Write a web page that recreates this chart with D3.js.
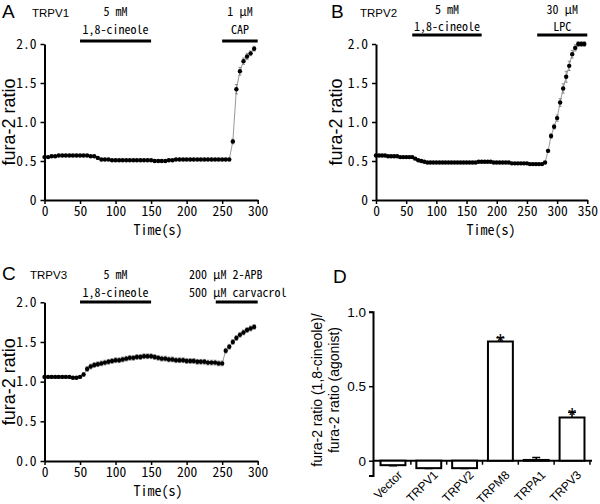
<!DOCTYPE html>
<html lang="en">
  <head>
    <meta charset="utf-8" />
    <title>fura-2 ratio traces</title>
    <script src="https://d3js.org/d3.v7.js"></script>
    <style>
      body { margin: 0; background: #fff; }
      .mono { font-family: "Noto Sans Mono CJK JP", "Liberation Mono", monospace; }
      .sans { font-family: "Liberation Sans", Arial, sans-serif; }
    </style>
  </head>
  <body>
    <script>

    // ---- data ----
    // panel A: TRPV1, every 5 s
    var timeA = [0,5,10,15,20,25,30,35,40,45,50,55,60,65,70,75,80,85,90,95,
      100,105,110,115,120,125,130,135,140,145,150,155,160,165,170,175,180,185,190,195,
      200,205,210,215,220,225,230,235,240,245,250,255,260,265,270,275,280,285,290,295];
    var ratioA = [0.55,0.55,0.56,0.56,0.57,0.57,0.57,0.57,0.57,0.57,
      0.57,0.57,0.57,0.56,0.56,0.54,0.52,0.52,0.52,0.51,
      0.51,0.51,0.51,0.51,0.51,0.51,0.51,0.51,0.51,0.51,
      0.51,0.50,0.50,0.50,0.50,0.51,0.51,0.52,0.52,0.52,
      0.52,0.52,0.52,0.52,0.52,0.52,0.52,0.52,0.52,0.52,
      0.52,0.52,0.52,0.75,1.42,1.65,1.78,1.84,1.88,1.94];
    var errA = [0.01,0.01,0.01,0.01,0.01,0.01,0.01,0.01,0.01,0.01,
      0.01,0.01,0.01,0.01,0.01,0.01,0.01,0.01,0.01,0.01,
      0.01,0.01,0.01,0.01,0.01,0.01,0.01,0.01,0.01,0.01,
      0.01,0.01,0.01,0.01,0.01,0.01,0.01,0.01,0.01,0.01,
      0.01,0.01,0.01,0.01,0.01,0.01,0.01,0.01,0.01,0.01,
      0.01,0.01,0.01,0.03,0.06,0.05,0.04,0.04,0.03,0.03];

    // panel B: TRPV2
    var timeB = [0,5,10,15,20,25,30,35,40,45,50,55,60,65,70,75,80,85,90,95,
      100,105,110,115,120,125,130,135,140,145,150,155,160,165,170,175,180,185,190,195,
      200,205,210,215,220,225,230,235,240,245,250,255,260,265,270,275,280,285,290,295,
      300,305,310,315,320,325,330,335,340,345];
    var ratioB = [0.57,0.57,0.57,0.57,0.56,0.56,0.56,0.56,0.55,0.55,
      0.55,0.55,0.55,0.53,0.51,0.50,0.49,0.48,0.48,0.48,
      0.48,0.48,0.48,0.48,0.48,0.48,0.48,0.48,0.48,0.48,
      0.48,0.48,0.48,0.48,0.49,0.49,0.49,0.49,0.49,0.48,
      0.48,0.48,0.48,0.48,0.48,0.47,0.47,0.47,0.47,0.47,
      0.47,0.46,0.46,0.46,0.46,0.46,0.48,0.63,0.82,0.94,
      1.05,1.25,1.43,1.58,1.72,1.87,1.95,2.00,2.00,2.00];
    var errB = [0.01,0.01,0.01,0.01,0.01,0.01,0.01,0.01,0.01,0.01,
      0.01,0.01,0.01,0.01,0.01,0.01,0.01,0.01,0.01,0.01,
      0.01,0.01,0.01,0.01,0.01,0.01,0.01,0.01,0.01,0.01,
      0.01,0.01,0.01,0.01,0.01,0.01,0.01,0.01,0.01,0.01,
      0.01,0.01,0.01,0.01,0.01,0.01,0.01,0.01,0.01,0.01,
      0.01,0.01,0.01,0.01,0.01,0.01,0.01,0.02,0.03,0.03,
      0.04,0.05,0.06,0.07,0.06,0.05,0.04,0.03,0.03,0.03];

    // panel C: TRPV3
    var timeC = timeA;
    var ratioC = [1.06,1.06,1.06,1.06,1.06,1.06,1.06,1.06,1.05,1.05,
      1.06,1.09,1.16,1.19,1.21,1.22,1.23,1.24,1.25,1.26,
      1.27,1.27,1.28,1.29,1.30,1.30,1.31,1.31,1.32,1.32,
      1.32,1.31,1.30,1.29,1.29,1.28,1.28,1.27,1.27,1.27,
      1.26,1.26,1.26,1.25,1.25,1.25,1.24,1.24,1.24,1.23,
      1.23,1.39,1.44,1.50,1.55,1.59,1.62,1.65,1.67,1.69];
    var errC = [0.01,0.01,0.01,0.01,0.01,0.01,0.01,0.01,0.01,0.01,
      0.01,0.02,0.03,0.03,0.03,0.03,0.03,0.03,0.03,0.03,
      0.03,0.03,0.03,0.03,0.03,0.03,0.03,0.03,0.03,0.03,
      0.03,0.03,0.03,0.03,0.03,0.03,0.03,0.03,0.03,0.03,
      0.03,0.03,0.03,0.03,0.03,0.03,0.03,0.03,0.03,0.03,
      0.03,0.03,0.03,0.03,0.03,0.03,0.03,0.03,0.03,0.03];

    // panel D: summary
    var categoriesD = ["Vector", "TRPV1", "TRPV2", "TRPM8", "TRPA1", "TRPV3"];
    var ratioD = [-0.03, -0.05, -0.05, 0.80, 0.005, 0.29];
    var errD = [0.004, 0.003, 0.003, 0.025, 0.017, 0.035];
    var signifD = [false, false, false, true, false, true];

    var traceTicksY = [0, 0.5, 1, 1.5, 2];

    // ---- drawing ----
    var svg = d3.select("body")
      .append("svg")
        .attr("width", 600)
        .attr("height", 504);

    function drawTrace(c) {
      var g = svg.append("g");
      var x = d3.scaleLinear().domain([0, c.xMax]).range([c.x0, c.x1]);
      var y = d3.scaleLinear().domain([0, 2]).range([c.y0, c.y1]);

      // axes
      var xAxis = g.append("g")
        .attr("transform", `translate(0,${c.y0})`)
        .call(d3.axisBottom(x).tickValues(d3.range(0, c.xMax + 1, 50)).tickSize(4).tickSizeOuter(0).tickPadding(2));
      var yAxis = g.append("g")
        .attr("transform", `translate(${c.x0},0)`)
        .call(d3.axisLeft(y).tickValues(traceTicksY).tickSize(4).tickSizeOuter(0).tickPadding(4)
          .tickFormat(c.yFormat));
      [xAxis, yAxis].forEach(function(a) {
        a.select(".domain").attr("stroke-width", 2);
        a.selectAll(".tick line").attr("stroke-width", 1.5);
        a.selectAll("text").attr("class", "mono").attr("font-size", 13.5).attr("fill", "#000");
      });

      // data
      var pts = c.time.map((t, i) => ({t: t, v: c.ratio[i], e: c.err[i]}));
      g.append("path")
        .datum(pts)
        .attr("fill", "none")
        .attr("stroke", "#999")
        .attr("stroke-width", 1)
        .attr("d", d3.line().x(d => x(d.t)).y(d => y(d.v)));
      g.selectAll(".err")
        .data(pts)
        .join("path")
          .attr("fill", "none")
          .attr("stroke", "#777")
          .attr("stroke-width", 0.8)
          .attr("d", d => `M${x(d.t)},${y(d.v - d.e)}V${y(d.v + d.e)}` +
            `M${x(d.t) - 1.5},${y(d.v - d.e)}h3M${x(d.t) - 1.5},${y(d.v + d.e)}h3`);
      g.selectAll(".dot")
        .data(pts)
        .join("circle")
          .attr("cx", d => x(d.t))
          .attr("cy", d => y(d.v))
          .attr("r", 2.2)
          .attr("fill", "#000");

      // application bars
      c.bars.forEach(function(b) {
        g.append("line")
          .attr("x1", x(b.from)).attr("x2", x(b.to))
          .attr("y1", b.y).attr("y2", b.y)
          .attr("stroke", "#000")
          .attr("stroke-width", 3);
        b.lines.forEach(function(l) {
          g.append("text")
            .attr("class", "mono")
            .attr("font-size", 12)
            .attr("x", b.anchor === "start" ? b.tx : (x(b.from) + x(b.to)) / 2)
            .attr("y", l.y)
            .attr("text-anchor", b.anchor || "middle")
            .text(l.text);
        });
      });

      // labels
      g.append("text").attr("class", "sans").attr("font-size", 19)
        .attr("x", c.letterX).attr("y", c.letterY).text(c.letter);
      g.append("text").attr("class", "sans").attr("font-size", 11.5)
        .attr("x", c.nameX).attr("y", c.letterY - 1).text(c.name);
      g.append("text").attr("class", "mono").attr("font-size", 14)
        .attr("x", c.timeX).attr("y", c.y0 + 35)
        .attr("text-anchor", "middle").text("Time(s)");
      g.append("text").attr("class", "sans").attr("font-size", 18)
        .attr("transform", `translate(${c.ylabX},${(c.y0 + c.y1) / 2}) rotate(-90)`)
        .attr("text-anchor", "middle").text("fura-2 ratio");
    }

    var fmtZero = d => d === 0 ? "0" : d3.format(".1f")(d);

    drawTrace({
      letter: "A", letterX: 2, letterY: 18, name: "TRPV1", nameX: 32,
      time: timeA, ratio: ratioA, err: errA, xMax: 300,
      x0: 44.5, x1: 257.7, y0: 200, y1: 44, timeX: 158, ylabX: 15,
      yFormat: fmtZero,
      bars: [
        {from: 50, to: 150, y: 41, lines: [{text: "5 mM", y: 16}, {text: "1,8-cineole", y: 34}]},
        {from: 250, to: 300, y: 41, lines: [{text: "1 µM", y: 16}, {text: "CAP", y: 34}]}
      ]
    });

    drawTrace({
      letter: "B", letterX: 331, letterY: 18, name: "TRPV2", nameX: 360,
      time: timeB, ratio: ratioB, err: errB, xMax: 350,
      x0: 376, x1: 587.3, y0: 200, y1: 44, timeX: 491, ylabX: 342,
      yFormat: fmtZero,
      bars: [
        {from: 60, to: 175, y: 35, lines: [{text: "5 mM", y: 14}, {text: "1,8-cineole", y: 31}]},
        {from: 267, to: 350, y: 35, lines: [{text: "30 µM", y: 14}, {text: "LPC", y: 31}]}
      ]
    });

    drawTrace({
      letter: "C", letterX: 2, letterY: 280, name: "TRPV3", nameX: 30,
      time: timeC, ratio: ratioC, err: errC, xMax: 300,
      x0: 44.5, x1: 257.7, y0: 461, y1: 302.3, timeX: 158, ylabX: 15,
      yFormat: d3.format(".1f"),
      bars: [
        {from: 50, to: 150, y: 302, lines: [{text: "5 mM", y: 279}, {text: "1,8-cineole", y: 297}]},
        {from: 241, to: 300, y: 302, anchor: "start", tx: 189,
          lines: [{text: "200 µM 2-APB", y: 279}, {text: "500 µM carvacrol", y: 297}]}
      ]
    });

    // panel D
    var gD = svg.append("g");
    var xD = d3.scaleBand()
      .domain(categoriesD)
      .range([373, 592])
      .paddingInner(0.305)
      .paddingOuter(0.21);
    var yD = d3.scaleLinear().domain([-0.1, 1.0]).range([475.6, 311.7]);

    var yAxisD = gD.append("g")
      .attr("transform", "translate(373,0)")
      .call(d3.axisLeft(yD).tickValues([0, 0.5, 1]).tickSize(4).tickSizeOuter(4).tickPadding(3)
        .tickFormat(d => d === 0 ? "0" : d3.format(".1f")(d)));
    yAxisD.select(".domain").attr("stroke-width", 2);
    yAxisD.selectAll(".tick line").attr("stroke-width", 1.5);
    yAxisD.selectAll("text").attr("class", "sans").attr("font-size", 13.5).attr("fill", "#000");

    // x axis along zero with ticks between categories
    var stepD = xD.step();
    gD.append("line")
      .attr("x1", 373).attr("x2", 592)
      .attr("y1", yD(0)).attr("y2", yD(0))
      .attr("stroke", "#000").attr("stroke-width", 2);
    gD.selectAll(".sep")
      .data(categoriesD)
      .join("line")
        .attr("x1", d => xD(d) + xD.bandwidth() + (stepD - xD.bandwidth()) / 2)
        .attr("x2", d => xD(d) + xD.bandwidth() + (stepD - xD.bandwidth()) / 2)
        .attr("y1", yD(0))
        .attr("y2", yD(0) + 4)
        .attr("stroke", "#000")
        .attr("stroke-width", 1.5);

    // bars
    var barsD = categoriesD.map((c, i) => ({c: c, v: ratioD[i], e: errD[i], s: signifD[i]}));
    gD.selectAll(".errD")
      .data(barsD)
      .join("path")
        .attr("fill", "none")
        .attr("stroke", "#000")
        .attr("stroke-width", 1.5)
        .attr("d", function(d) {
          var cx = xD(d.c) + xD.bandwidth() / 2;
          var end = d.v >= 0 ? d.v + d.e : d.v - d.e;
          return `M${cx},${yD(d.v)}V${yD(end)}M${cx - 4},${yD(end)}h8`;
        });
    gD.selectAll(".bar")
      .data(barsD)
      .join("rect")
        .attr("x", d => xD(d.c))
        .attr("y", d => yD(Math.max(0, d.v)))
        .attr("width", xD.bandwidth())
        .attr("height", d => Math.abs(yD(d.v) - yD(0)))
        .attr("fill", "#fff")
        .attr("stroke", "#000")
        .attr("stroke-width", 2);
    gD.selectAll(".star")
      .data(barsD.filter(d => d.s))
      .join("text")
        .attr("class", "sans")
        .attr("font-size", 21)
        .attr("text-anchor", "middle")
        .attr("x", d => xD(d.c) + xD.bandwidth() / 2)
        .attr("y", d => yD(d.v + d.e) + 10)
        .text("*");

    gD.selectAll(".catlab")
      .data(categoriesD)
      .join("text")
        .attr("class", "sans")
        .attr("font-size", 12)
        .attr("text-anchor", "end")
        .attr("transform", d => `translate(${xD(d) + xD.bandwidth() / 2 + 10},${yD(0) + 15}) rotate(-45)`)
        .text(d => d);

    gD.append("text").attr("class", "sans").attr("font-size", 19)
      .attr("x", 333).attr("y", 283).text("D");
    var ylabD = gD.append("text").attr("class", "sans").attr("font-size", 14)
      .attr("text-anchor", "middle")
      .attr("transform", "translate(322,390) rotate(-90)");
    ylabD.append("tspan").attr("x", 0).attr("dy", 0).text("fura-2 ratio (1,8-cineole)/");
    ylabD.append("tspan").attr("x", 0).attr("dy", 17).text("fura-2 ratio (agonist)");

    </script>
  </body>
</html>
